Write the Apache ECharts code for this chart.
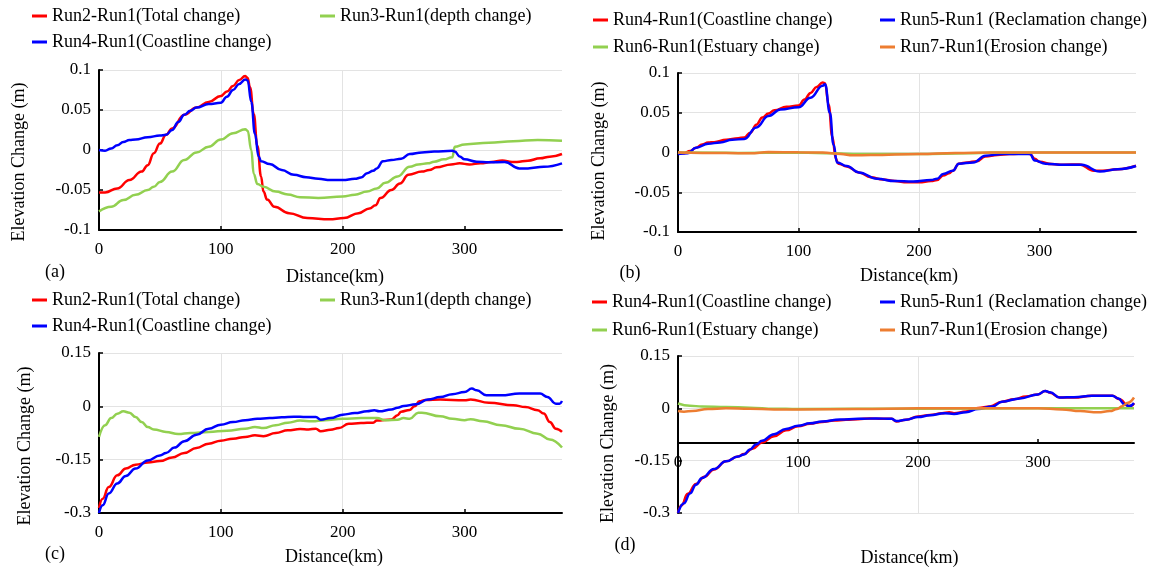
<!DOCTYPE html>
<html><head><meta charset="utf-8">
<script src="https://cdn.jsdelivr.net/npm/echarts@6/dist/echarts.min.js"></script>
<style>html,body{margin:0;padding:0;background:#fff}#c{width:1151px;height:568px}</style>
</head><body><div id="c"></div>
<script>
// ---- names ----
const N_TOTAL = 'Run2-Run1(Total change)';
const N_DEPTH = 'Run3-Run1(depth change)';
const N_COAST = 'Run4-Run1(Coastline change)';
const N_RECL = 'Run5-Run1 (Reclamation change)';
const N_EST = 'Run6-Run1(Estuary change)';
const N_ERO = 'Run7-Run1(Erosion change)';

// ---- ticks ----
const xTicks = [0, 100, 200, 300];
const yTicksAB = [-0.1, -0.05, 0, 0.05, 0.1];
const yTicksCD = [-0.3, -0.15, 0, 0.15];

// ---- panel (a)/(b) ----
const aTotalX = [0,5,15,25,35,40,45,50,55,60,70,80,90,100,105,110,115,120,122,124,127,130,133,135,138,144,156,171,189,201,213,222,227,231,240,247,254,265,271,277,289,296,304,313,322,331,339,343,352,362,370,380];
const aTotalY = [-0.053,-0.053,-0.048,-0.0375,-0.027,-0.019,-0.004,0.008,0.019,0.027,0.044,0.053,0.06,0.0675,0.073,0.08,0.0875,0.0925,0.09,0.078,0.045,0.005,-0.033,-0.052,-0.062,-0.071,-0.079,-0.085,-0.0867,-0.085,-0.079,-0.073,-0.069,-0.06,-0.05,-0.042,-0.031,-0.027,-0.025,-0.0217,-0.018,-0.0167,-0.018,-0.0167,-0.015,-0.013,-0.015,-0.015,-0.0133,-0.0104,-0.0083,-0.005];

const aDepthX = [0,10,20,30,40,45,50,60,70,80,90,100,110,120,122,125,127,130,135,145,155,165,180,200,210,220,228,235,245,255,262,270,275,283,290,292,300,320,340,360,380];
const aDepthY = [-0.077,-0.071,-0.0625,-0.056,-0.05,-0.046,-0.04,-0.027,-0.0125,-0.003,0.004,0.013,0.021,0.026,0.024,0.0,-0.03,-0.0425,-0.046,-0.052,-0.0555,-0.059,-0.06,-0.058,-0.056,-0.052,-0.048,-0.041,-0.033,-0.021,-0.018,-0.0167,-0.0146,-0.0117,-0.009,0.004,0.007,0.009,0.011,0.0125,0.0117];

const aCoastX = [0,5,10,15,20,25,30,40,50,55,60,65,70,75,80,90,100,105,110,115,120,122,125,128,131,133,140,150,160,170,180,190,200,210,215,220,225,228,233,240,248,255,265,275,290,292,296,300,310,320,333,345,352,365,380];
const aCoastY = [0,-0.001,0.002,0.006,0.010,0.0125,0.013,0.016,0.018,0.019,0.025,0.035,0.044,0.049,0.053,0.0575,0.059,0.0667,0.075,0.0825,0.088,0.087,0.06,0.02,-0.008,-0.014,-0.0175,-0.025,-0.031,-0.034,-0.036,-0.0375,-0.0375,-0.036,-0.0345,-0.029,-0.026,-0.023,-0.014,-0.0125,-0.011,-0.005,-0.003,-0.002,-0.001,-0.002,-0.008,-0.0117,-0.0146,-0.0154,-0.015,-0.023,-0.023,-0.021,-0.0167];

const bReclX = [0,8,15,25,35,45,55,65,75,85,100,110,120,122,126,129,132,140,150,165,180,195,210,215,220,228,233,245,255,270,292,296,305,320,335,350,365,380];
const bReclY = [-0.002,-0.001,0.006,0.011,0.0126,0.016,0.017,0.0316,0.046,0.054,0.057,0.069,0.084,0.086,0.05,0.01,-0.0126,-0.017,-0.025,-0.033,-0.036,-0.0366,-0.0345,-0.033,-0.027,-0.023,-0.014,-0.0126,-0.004,-0.002,-0.002,-0.01,-0.014,-0.0155,-0.0155,-0.024,-0.021,-0.017];

const bEstX = [0,50,100,130,150,200,240,260,380];
const bEstY = [0,-0.0005,0,-0.001,-0.002,-0.002,-0.001,0,0];

const bEroX = [0,20,60,75,100,120,135,145,160,200,230,260,380];
const bEroY = [0,-0.0005,-0.001,0.0005,0.0003,0,-0.002,-0.0035,-0.0033,-0.002,-0.0005,0,0];

// ---- panel (c)/(d) ----
const cTotalX = [0,3,8,15,22,30,40,50,60,70,80,90,100,110,120,128,135,145,155,165,172,178,182,190,197,205,215,225,228,240,245,248,255,259,263,268,280,300,305,320,340,350,360,365,370,375,380];
const cTotalY = [-0.286,-0.26,-0.227,-0.194,-0.175,-0.164,-0.158,-0.154,-0.144,-0.131,-0.117,-0.105,-0.0965,-0.091,-0.086,-0.0815,-0.084,-0.075,-0.0675,-0.064,-0.065,-0.063,-0.07,-0.066,-0.061,-0.049,-0.047,-0.046,-0.04,-0.037,-0.025,-0.015,-0.01,0.0,0.014,0.018,0.019,0.017,0.019,0.010,0.003,-0.002,-0.011,-0.02,-0.044,-0.063,-0.072];

const cDepthX = [0,5,10,15,20,25,30,35,40,45,55,65,75,90,105,120,128,135,145,155,165,175,185,200,215,228,235,245,250,255,262,265,280,290,300,305,315,330,345,360,370,380];
const cDepthY = [-0.086,-0.053,-0.033,-0.021,-0.014,-0.018,-0.03,-0.044,-0.058,-0.065,-0.072,-0.078,-0.075,-0.072,-0.0685,-0.063,-0.058,-0.061,-0.053,-0.046,-0.040,-0.042,-0.039,-0.035,-0.033,-0.033,-0.039,-0.0375,-0.033,-0.035,-0.018,-0.018,-0.028,-0.035,-0.039,-0.036,-0.042,-0.053,-0.063,-0.077,-0.093,-0.116];

const cCoastX = [0,3,8,15,22,30,40,50,55,62,70,80,90,100,110,120,130,140,150,160,170,178,182,190,200,210,220,226,230,240,245,250,260,270,280,290,300,306,310,318,330,345,362,368,375,378,380];
const cCoastY = [-0.3,-0.278,-0.245,-0.217,-0.196,-0.175,-0.152,-0.138,-0.131,-0.116,-0.098,-0.08,-0.063,-0.0515,-0.044,-0.039,-0.035,-0.033,-0.031,-0.029,-0.03,-0.03,-0.0375,-0.033,-0.0234,-0.019,-0.014,-0.011,-0.014,-0.009,-0.004,0.001,0.0056,0.019,0.026,0.034,0.04,0.05,0.045,0.031,0.031,0.036,0.036,0.026,0.0075,0.0075,0.015];

const dReclX = [0,5,10,15,20,30,40,50,55,60,65,70,80,90,100,110,120,135,150,165,178,182,190,200,210,222,230,240,250,262,270,285,300,306,310,318,330,345,362,367,372,376,380];
const dReclY = [-0.3,-0.272,-0.244,-0.219,-0.2,-0.174,-0.152,-0.138,-0.132,-0.118,-0.104,-0.093,-0.074,-0.059,-0.05,-0.043,-0.038,-0.032,-0.03,-0.029,-0.03,-0.0365,-0.033,-0.025,-0.02,-0.014,-0.016,-0.011,-0.002,0.005,0.019,0.0285,0.04,0.05,0.046,0.031,0.032,0.036,0.036,0.028,0.012,0.006,0.015];

const dEstX = [0,10,20,40,60,80,100,200,300,380];
const dEstY = [0.014,0.0076,0.005,0.004,0.002,-0.001,-0.002,-0.001,0,0];

const dEroX = [0,5,12,25,40,60,80,100,150,200,250,300,320,335,350,360,366,370,375,380];
const dEroY = [-0.0076,-0.0095,-0.0076,-0.002,0,-0.001,-0.003,-0.003,-0.002,0,0,0,-0.003,-0.008,-0.011,-0.008,-0.002,0.006,0.016,0.031];

// ---- build ----
const RED = '#ff0000', GREEN = '#92d050', BLUE = '#0000ff', ORANGE = '#ed7d31';
const FONT = 'Liberation Serif';
const pairs = (xs, ys) => xs.map((x, i) => [x, ys[i]]);

const panels = [
  { grid: {left: 99, top: 70, width: 463, height: 160}, y: yTicksAB, xOff: 0,
    xGap: 38, xPad: 9, yGap: 71, yPad: 24, tag: '(a)', tagPos: [55, 272],
    series: [[N_TOTAL, RED, aTotalX, aTotalY], [N_DEPTH, GREEN, aDepthX, aDepthY], [N_COAST, BLUE, aCoastX, aCoastY]],
    legend: [[N_TOTAL, RED, 32, 17], [N_DEPTH, GREEN, 320, 17], [N_COAST, BLUE, 32, 43]] },
  { grid: {left: 678, top: 73, width: 458, height: 159}, y: yTicksAB, xOff: 0,
    xGap: 35, xPad: 4, yGap: 70, yPad: 17, tag: '(b)', tagPos: [630, 273],
    series: [[N_COAST, RED, aCoastX, aCoastY], [N_RECL, BLUE, bReclX, bReclY], [N_EST, GREEN, bEstX, bEstY], [N_ERO, ORANGE, bEroX, bEroY]],
    legend: [[N_COAST, RED, 593, 21], [N_RECL, BLUE, 880, 21], [N_EST, GREEN, 593, 48], [N_ERO, ORANGE, 880, 48]] },
  { grid: {left: 99, top: 353, width: 463, height: 160}, y: yTicksCD, xOff: 0,
    xGap: 35, xPad: 7, yGap: 65, yPad: 26, tag: '(c)', tagPos: [55, 554],
    series: [[N_TOTAL, RED, cTotalX, cTotalY], [N_DEPTH, GREEN, cDepthX, cDepthY], [N_COAST, BLUE, cCoastX, cCoastY]],
    legend: [[N_TOTAL, RED, 32, 301], [N_DEPTH, GREEN, 320, 301], [N_COAST, BLUE, 32, 327]] },
  { grid: {left: 678, top: 356, width: 456, height: 158}, y: yTicksCD, xOff: -70,
    xGap: 106, xPad: 7, yGap: 61, yPad: 18, tag: '(d)', tagPos: [625, 545],
    series: [[N_COAST, RED, cCoastX, cCoastY], [N_RECL, BLUE, dReclX, dReclY], [N_EST, GREEN, dEstX, dEstY], [N_ERO, ORANGE, dEroX, dEroY]],
    legend: [[N_COAST, RED, 592, 303], [N_RECL, BLUE, 880, 303], [N_EST, GREEN, 592, 331], [N_ERO, ORANGE, 880, 331]] }
];

const option = {
  backgroundColor: '#fff', animation: false,
  grid: [], xAxis: [], yAxis: [], series: [], legend: [], graphic: []
};
const axisLine = {show: true, onZero: false, lineStyle: {color: '#000', width: 2}};
const splitLine = {show: true, showMaxLine: false, lineStyle: {color: '#e3e3e3', width: 1}};
panels.forEach((p, i) => {
  option.grid.push(Object.assign({containLabel: false}, p.grid));
  option.xAxis.push({
    type: 'value', gridIndex: i, min: 0, max: 380, interval: 100, offset: p.xOff,
    name: 'Distance(km)', nameLocation: 'middle', nameGap: p.xGap,
    nameTextStyle: {fontFamily: FONT, fontSize: 18, color: '#000', padding: [0, 0, 0, p.xPad]},
    axisLine: axisLine,
    axisTick: {show: true, inside: true, length: 4, lineStyle: {color: '#000', width: 1.5}, customValues: xTicks},
    axisLabel: {fontFamily: FONT, fontSize: 17, color: '#000', margin: 11, customValues: xTicks},
    splitLine: splitLine
  });
  option.yAxis.push({
    type: 'value', gridIndex: i, min: p.y[0], max: p.y[p.y.length - 1], interval: p.y[1] - p.y[0],
    name: 'Elevation Change (m)', nameLocation: 'middle', nameGap: p.yGap,
    nameTextStyle: {fontFamily: FONT, fontSize: 18, color: '#000', padding: [0, p.yPad, 0, 0]},
    axisLine: axisLine,
    axisTick: {show: true, inside: true, length: 4, lineStyle: {color: '#000', width: 1.5}},
    axisLabel: {fontFamily: FONT, fontSize: 17, color: '#000', margin: 8, customValues: p.y},
    splitLine: {show: true, lineStyle: {color: '#e3e3e3', width: 1}}
  });
  p.series.forEach(s => {
    option.series.push({
      name: s[0], type: 'line', xAxisIndex: i, yAxisIndex: i,
      data: pairs(s[2], s[3]), showSymbol: false, smooth: 0.45, smoothMonotone: 'x',
      lineStyle: {color: s[1], width: 2.5}, itemStyle: {color: s[1]}
    });
  });
  p.legend.forEach(l => {
    option.legend.push({
      left: l[2], top: l[3] - 10, padding: 0, selectedMode: false,
      icon: 'rect', itemWidth: 15, itemHeight: 3,
      textStyle: {fontFamily: FONT, fontSize: 18, color: '#000'},
      data: [{name: l[0], itemStyle: {color: l[1]}, lineStyle: {color: l[1]}}]
    });
  });
  option.graphic.push({
    type: 'text', x: p.tagPos[0], y: p.tagPos[1],
    style: {text: p.tag, font: '18px "' + FONT + '"', fill: '#000', align: 'center', verticalAlign: 'middle'}
  });
});

const chart = echarts.init(document.getElementById('c'), null, {renderer: 'canvas'});
chart.setOption(option);
</script>
</body></html>
